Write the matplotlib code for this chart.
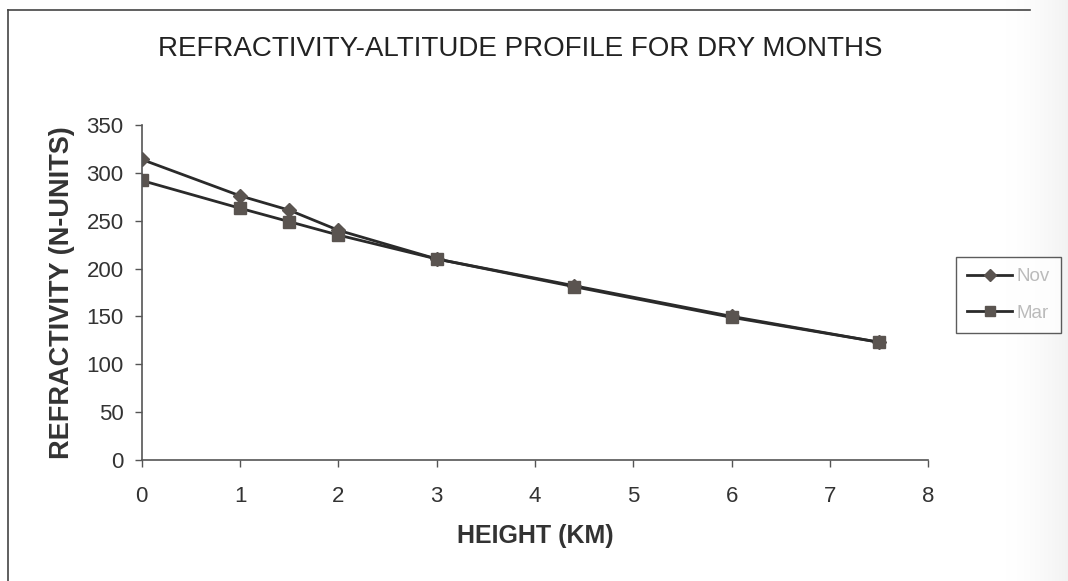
import numpy as np
import matplotlib.pyplot as plt
from matplotlib.lines import Line2D

plt.rcParams['font.family'] = ['Liberation Sans', 'DejaVu Sans']

# alturas (km) e refratividade (N-units)
height = [0, 1.0, 1.5, 2.0, 3.0, 4.4, 6.0, 7.5]
nov = [314, 276, 261, 240, 210, 182, 150, 123]
mar = [292, 263, 249, 235, 210, 181, 149, 123]
series_names = ['Nov', 'Mar']
x_ticks = [0, 1, 2, 3, 4, 5, 6, 7, 8]
y_ticks = [0, 50, 100, 150, 200, 250, 300, 350]

fig = plt.figure(figsize=(10.68, 5.81), dpi=100)
fig.patch.set_facecolor('white')

# sombra do scanner na borda direita
grad = np.linspace(0, 1, 200)[None, :] ** 2
bg = fig.add_axes([0.93, 0, 0.07, 1], zorder=-5)
bg.imshow(grad, cmap='Greys', vmin=0, vmax=9, aspect='auto', extent=[0, 1, 0, 1])
bg.axis('off')

# moldura do grafico (lado esquerdo e topo)
fig.add_artist(Line2D([8 / 1068, 8 / 1068], [0, 1 - 10 / 581], color='#444444', lw=1.2))
fig.add_artist(Line2D([8 / 1068, 1030 / 1068], [1 - 10 / 581, 1 - 10 / 581], color='#444444', lw=1.2))

ax = fig.add_axes([0.1327, 0.2083, 0.7366, 0.5766])
line_col = '#2a2a2a'
mk_col = '#5a5450'
ax.plot(height, nov, color=line_col, lw=2, marker='D', ms=7,
        mfc=mk_col, mec=mk_col, label=series_names[0])
ax.plot(height, mar, color=line_col, lw=2, marker='s', ms=9,
        mfc=mk_col, mec=mk_col, label=series_names[1])

ax.set_xlim(0, 8)
ax.set_ylim(0, 350)
ax.set_xticks(x_ticks)
ax.set_yticks(y_ticks)
for s in ['top', 'right']:
    ax.spines[s].set_visible(False)
for s in ['left', 'bottom']:
    ax.spines[s].set_color('#555555')
    ax.spines[s].set_linewidth(1.2)
ax.tick_params(direction='out', length=5, width=1, color='#555555',
               labelsize=16, labelcolor='#333333', pad=8)
ax.tick_params(axis='x', pad=14)

ax.set_xlabel('HEIGHT (KM)', fontsize=18, fontweight='bold', color='#333333', labelpad=12)
ax.set_ylabel('REFRACTIVITY (N-UNITS)', fontsize=19.5, fontweight='bold', color='#333333', labelpad=8)
fig.text(0.487, 0.916, 'REFRACTIVITY-ALTITUDE PROFILE FOR DRY MONTHS',
         ha='center', va='center', fontsize=20, color='#222222')

leg = ax.legend(loc='upper left', bbox_to_anchor=(956 / 1068, 1 - 257 / 581),
                bbox_transform=fig.transFigure, frameon=True, fancybox=False,
                borderaxespad=0, fontsize=13.5, handlelength=2.4, borderpad=0.6,
                labelspacing=1.03, handletextpad=0.2, markerscale=0.85)
leg.get_frame().set_edgecolor('#333333')
leg.get_frame().set_linewidth(1.0)
for t in leg.get_texts():
    t.set_color('#bbbbbb')

fig.savefig('out.png', dpi=100)
